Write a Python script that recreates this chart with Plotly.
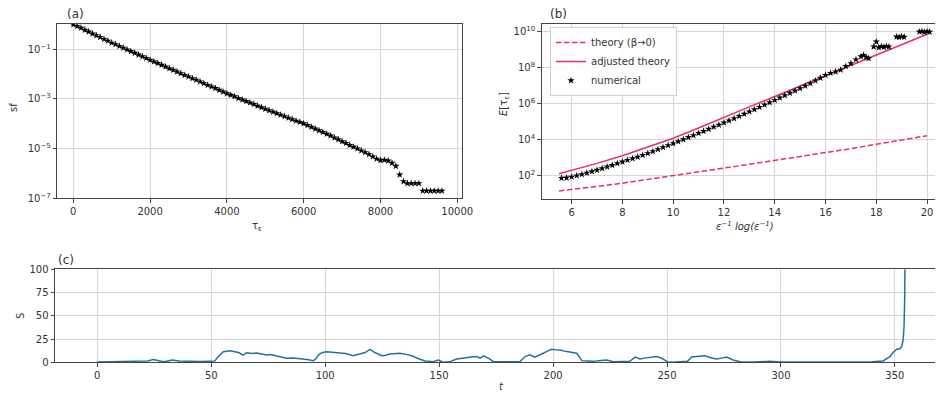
import plotly.graph_objects as go

# ---------------- data ----------------
# panel (a): survival function vs tau_eps (log10 values)
tau = [0, 100, 200, 300, 400, 500, 600, 700, 800, 900,
       1000, 1100, 1200, 1300, 1400, 1500, 1600, 1700, 1800, 1900,
       2000, 2100, 2200, 2300, 2400, 2500, 2600, 2700, 2800, 2900,
       3000, 3100, 3200, 3300, 3400, 3500, 3600, 3700, 3800, 3900,
       4000, 4100, 4200, 4300, 4400, 4500, 4600, 4700, 4800, 4900,
       5000, 5100, 5200, 5300, 5400, 5500, 5600, 5700, 5800, 5900,
       6000, 6100, 6200, 6300, 6400, 6500, 6600, 6700, 6800, 6900,
       7000, 7100, 7200, 7300, 7400, 7500, 7600, 7700, 7800, 7900,
       8000, 8100, 8200, 8300, 8400, 8500, 8600, 8700, 8800, 8900,
       9000, 9100, 9200, 9300, 9400, 9500, 9600]
log_sf = [0.00, -0.07, -0.14, -0.22, -0.29, -0.37, -0.44, -0.51, -0.59, -0.66,
          -0.74, -0.80, -0.87, -0.94, -1.01, -1.08, -1.15, -1.22, -1.29, -1.36,
          -1.43, -1.50, -1.56, -1.63, -1.70, -1.77, -1.83, -1.90, -1.97, -2.04,
          -2.10, -2.17, -2.23, -2.30, -2.37, -2.44, -2.50, -2.57, -2.64, -2.71,
          -2.78, -2.84, -2.90, -2.97, -3.03, -3.09, -3.15, -3.21, -3.28, -3.34,
          -3.40, -3.46, -3.52, -3.58, -3.64, -3.70, -3.76, -3.82, -3.88, -3.93,
          -3.99, -4.06, -4.13, -4.20, -4.27, -4.34, -4.41, -4.48, -4.56, -4.63,
          -4.71, -4.78, -4.86, -4.93, -5.00, -5.08, -5.15, -5.23, -5.32, -5.41,
          -5.47, -5.46, -5.49, -5.58, -5.70, -6.05, -6.32, -6.40, -6.40, -6.40,
          -6.40, -6.70, -6.70, -6.70, -6.70, -6.70, -6.70]
sf = [10 ** v for v in log_sf]

# panel (b): expected exit time vs eps^-1 log(eps^-1)
theory_x = [5.5, 6, 7, 8, 9, 10, 11, 12, 13, 14, 15, 16, 17, 18, 19, 20]
theory_log = [1.15, 1.22, 1.40, 1.58, 1.80, 2.02, 2.22, 2.42, 2.63, 2.84,
              3.05, 3.27, 3.50, 3.74, 3.98, 4.22]
adjusted_log = [2.10, 2.28, 2.68, 3.10, 3.58, 4.08, 4.65, 5.25, 5.82, 6.40,
                6.97, 7.54, 8.12, 8.70, 9.28, 9.86]
num_x = [5.6, 5.8, 6.0, 6.2, 6.4, 6.6, 6.8, 7.0, 7.2, 7.4,
         7.6, 7.8, 8.0, 8.2, 8.4, 8.6, 8.8, 9.0, 9.2, 9.4,
         9.6, 9.8, 10.0, 10.2, 10.4, 10.6, 10.8, 11.0, 11.2, 11.4,
         11.6, 11.8, 12.0, 12.2, 12.4, 12.6, 12.8, 13.0, 13.2, 13.4,
         13.6, 13.8, 14.0, 14.2, 14.4, 14.6, 14.8, 15.0, 15.2, 15.4,
         15.6, 15.8, 16.0, 16.2, 16.4, 16.6, 16.8, 17.0, 17.2, 17.4,
         17.5, 17.6, 17.7, 17.9, 18.0, 18.1, 18.2, 18.3, 18.4, 18.5,
         18.8, 18.9, 19.0, 19.1, 19.7, 19.8, 19.9, 20.0, 20.1]
num_log = [1.86, 1.88, 1.93, 2.00, 2.07, 2.15, 2.23, 2.31, 2.40, 2.49,
           2.58, 2.68, 2.77, 2.86, 2.95, 3.04, 3.14, 3.24, 3.35, 3.46,
           3.57, 3.68, 3.79, 3.90, 4.01, 4.13, 4.24, 4.36, 4.47, 4.59,
           4.71, 4.82, 4.94, 5.06, 5.18, 5.31, 5.43, 5.56, 5.68, 5.81,
           5.94, 6.07, 6.20, 6.33, 6.46, 6.59, 6.72, 6.85, 6.99, 7.13,
           7.28, 7.43, 7.59, 7.70, 7.78, 7.88, 8.08, 8.24, 8.45, 8.62,
           8.70, 8.58, 8.52, 9.17, 9.44, 9.12, 9.18, 9.15, 9.20, 9.17,
           9.72, 9.70, 9.74, 9.71, 10.00, 10.02, 9.98, 10.01, 9.99]
theory_y = [10 ** v for v in theory_log]
adjusted_y = [10 ** v for v in adjusted_log]
num_y = [10 ** v for v in num_log]

# panel (c): trajectory S(t)
t_vals = [0, 5, 10, 15, 20, 22, 24.6, 27, 29, 31,
          33, 36, 40, 45, 50, 51.6, 53, 55.3, 58.2, 60.4,
          62, 64, 65.5, 68, 70, 72, 74.3, 76, 78.7, 81,
          83, 86, 89, 92, 94.8, 96, 97, 98.5, 100.6, 103,
          106.5, 109, 112.3, 115.3, 117.5, 119.7, 121.8, 124.8, 126.5, 128.4,
          130.5, 132.8, 136.5, 138, 140.2, 142, 143.8, 147.4, 149.6, 151.8,
          155, 157.7, 160, 162, 164, 166.5, 168, 169.5, 172.3, 173.8,
          177, 181, 185.4, 187.7, 189.9, 192, 194, 195.7, 197.5, 199.4,
          201, 203, 206, 208.2, 210.4, 211.5, 212.6, 215, 217.7, 221,
          223.5, 226.4, 230, 233.7, 236, 238.2, 240, 242.5, 245.5, 247.5,
          249.1, 250.6, 254, 257, 259, 260.8, 263, 266.6, 269.6, 271.8,
          274, 276.2, 279, 282, 288, 295, 300, 310, 320, 330,
          340, 344.8, 346.5, 347.8, 349, 350.8, 352.2, 353, 353.6, 354,
          354.3, 354.5]
S_vals = [0.3, 0.4, 0.5, 0.8, 1.2, 1.5, 3.0, 1.2, 0.5, 1.5,
          2.5, 1.5, 1.0, 0.8, 1.0, 1.5, 6.0, 11.4, 12.5, 11.4,
          10.5, 7.8, 10.3, 9.5, 10.0, 9.0, 7.8, 8.5, 6.8, 5.5,
          4.3, 4.5, 4.0, 3.0, 1.7, 4.0, 7.8, 10.3, 11.4, 10.8,
          10.0, 9.5, 7.0, 9.0, 10.5, 14.0, 10.5, 7.0, 7.5, 9.0,
          9.2, 9.7, 8.0, 7.0, 4.6, 2.8, 1.4, 0.7, 2.5, 0.0,
          1.0, 3.5, 4.5, 5.6, 5.8, 6.3, 4.6, 7.0, 3.5, 0.7,
          0.5, 0.3, 0.5, 6.2, 8.0, 5.6, 7.5, 9.7, 12.0, 14.0,
          13.5, 13.3, 11.5, 10.4, 9.7, 6.0, 1.8, 1.5, 1.0, 2.0,
          2.5, 0.7, 0.8, 1.0, 5.6, 3.5, 4.5, 5.6, 6.3, 4.6,
          1.8, 0.0, 0.3, 0.7, 1.0, 5.6, 6.3, 7.0, 4.6, 3.5,
          4.5, 5.6, 2.5, 0.7, 0.3, 1.0, 0.3, 0.2, 0.3, 0.4,
          0.5, 1.5, 4.0, 6.0, 10.0, 14.0, 14.5, 17.0, 24.0, 38.0,
          70.0, 140.0]

a_xticks = [0, 2000, 4000, 6000, 8000, 10000]
a_xticktext = ["0", "2000", "4000", "6000", "8000", "10000"]
a_yticks = [1e-1, 1e-3, 1e-5, 1e-7]
a_yticktext = ["10<sup>−1</sup>", "10<sup>−3</sup>", "10<sup>−5</sup>", "10<sup>−7</sup>"]
b_xticks = [6, 8, 10, 12, 14, 16, 18, 20]
b_yticks = [1e2, 1e4, 1e6, 1e8, 1e10]
b_yticktext = ["10<sup>2</sup>", "10<sup>4</sup>", "10<sup>6</sup>", "10<sup>8</sup>", "10<sup>10</sup>"]
c_xticks = [0, 50, 100, 150, 200, 250, 300, 350]
c_yticks = [0, 25, 50, 75, 100]

# ---------------- figure ----------------
W, H = 943, 394
OFF = 8  # the page body has an 8 px margin: screen px = figure px + 8
PINK = "#eb2f64"
FONT = "DejaVu Sans"

fig = go.Figure()
fig.add_trace(go.Scatter(x=tau, y=sf, mode="markers", xaxis="x", yaxis="y",
                         marker=dict(symbol="star", size=5.5, color="black"),
                         showlegend=False))
fig.add_trace(go.Scatter(x=theory_x, y=theory_y, mode="lines", xaxis="x2", yaxis="y2",
                         line=dict(color=PINK, width=1.5, dash="5.5px,2.5px"),
                         name="theory (β→0)"))
fig.add_trace(go.Scatter(x=theory_x, y=adjusted_y, mode="lines", xaxis="x2", yaxis="y2",
                         line=dict(color=PINK, width=1.5),
                         name="adjusted theory"))
fig.add_trace(go.Scatter(x=num_x, y=num_y, mode="markers", xaxis="x2", yaxis="y2",
                         marker=dict(symbol="star", size=5.5, color="black"),
                         name="numerical"))
fig.add_trace(go.Scatter(x=t_vals, y=S_vals, mode="lines", xaxis="x3", yaxis="y3",
                         line=dict(color="#23729e", width=1.5),
                         showlegend=False))


def px_x(p):
    return (p - OFF) / W


def px_y(p):
    return 1 - (p - OFF) / H


axis_common = dict(showline=True, mirror=True, linecolor="#444", linewidth=1,
                   ticks="outside", ticklen=3.5, tickcolor="#444", automargin=False,
                   showgrid=True, gridcolor="#d6d6d6", gridwidth=1,
                   zeroline=False, tickfont=dict(size=10, color="#333", family=FONT))

fig.update_layout(
    width=W, height=H, margin=dict(l=0, r=0, t=0, b=0, autoexpand=False),
    paper_bgcolor="white", plot_bgcolor="white",
    font=dict(family=FONT, color="#333"),
    xaxis=dict(domain=[px_x(57.3), px_x(461.7)], range=[-417, 10115],
               tickvals=a_xticks, ticktext=a_xticktext, anchor="y", **axis_common),
    yaxis=dict(domain=[px_y(198.3), px_y(24)], type="log", range=[-7, 0.02],
               tickvals=a_yticks, ticktext=a_yticktext, anchor="x", **axis_common),
    xaxis2=dict(domain=[px_x(541.7), px_x(941.5)], range=[4.82, 20.57],
                tickvals=b_xticks, anchor="y2", **axis_common),
    yaxis2=dict(domain=[px_y(199), px_y(24)], type="log", range=[0.7, 10.43],
                tickvals=b_yticks, ticktext=b_yticktext, anchor="x2", **axis_common),
    xaxis3=dict(domain=[px_x(55), px_x(943)], range=[-18.56, 371.1],
                tickvals=c_xticks, anchor="y3", **axis_common),
    yaxis3=dict(domain=[px_y(362.3), px_y(269.3)], range=[0, 100],
                tickvals=c_yticks, anchor="x3", **axis_common),
    legend=dict(x=px_x(550), y=px_y(27), xanchor="left", yanchor="top",
                bgcolor="rgba(255,255,255,0.85)", bordercolor="#d0d0d0", borderwidth=1,
                font=dict(size=10, family=FONT, color="#333"), itemwidth=30,
                tracegroupgap=0),
)

annots = [
    dict(text="(a)", x=px_x(75), y=px_y(14)),
    dict(text="(b)", x=px_x(558), y=px_y(14)),
    dict(text="(c)", x=px_x(66), y=px_y(260)),
    dict(text="sf", x=px_x(13), y=px_y(108), textangle=-90, size=10),
    dict(text="τ<sub>ε</sub>", x=px_x(257), y=px_y(226), size=10),
    dict(text="<i>E</i>[τ<sub>ε</sub>]", x=px_x(504), y=px_y(104), textangle=-90, size=10),
    dict(text="<i>ε<sup>−1</sup> log(ε<sup>−1</sup>)</i>", x=px_x(745), y=px_y(226), size=10),
    dict(text="S", x=px_x(20), y=px_y(316), textangle=-90, size=10),
    dict(text="<i>t</i>", x=px_x(501), y=px_y(386), size=10),
]
for a in annots:
    fig.add_annotation(text=a["text"], x=a["x"], y=a["y"], xref="paper", yref="paper",
                       showarrow=False, textangle=a.get("textangle", 0),
                       font=dict(size=a.get("size", 12), family=FONT, color="#333"),
                       xanchor="center", yanchor="middle")

fig.write_html("out.html")
